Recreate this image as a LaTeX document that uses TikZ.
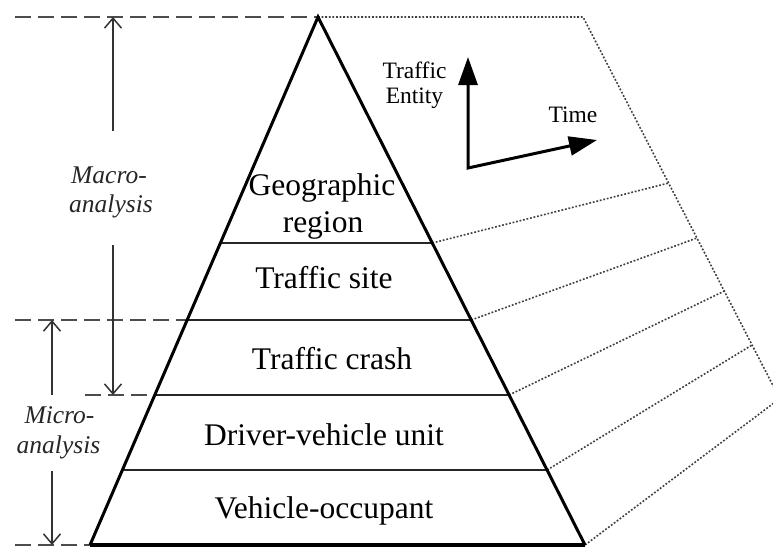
\documentclass[tikz,border=0pt]{standalone}
\usepackage{fontspec}
\setmainfont{Liberation Serif}
\usetikzlibrary{arrows.meta,calc}
\begin{document}
\begin{tikzpicture}[x=1pt,y=-1pt,
  level/.style={font=\fontsize{31.5}{37}\selectfont, anchor=base, inner sep=0pt},
  pyr/.style={line width=3pt, line join=miter},
  divider/.style={line width=2.8pt, draw=black!85},
  guide/.style={draw=black!70, line width=2.4pt, dash pattern=on 16pt off 7pt},
  dim/.style={draw=black!80, line width=1.5pt, -{Straight Barb[length=10pt,width=17pt]}},
  dots/.style={draw=black!75, line width=1.6pt, dash pattern=on 1.8pt off 1.8pt},
  axis/.style={line width=3pt, line join=miter, {Triangle[length=28pt,width=19pt]}-{Triangle[length=28pt,width=19pt]}},
  small/.style={font=\fontsize{23.5}{25}\selectfont, anchor=base, inner sep=0pt},
  side/.style={font=\itshape\fontsize{25.5}{29}\selectfont, text=black!85, anchor=base, inner sep=0pt}
]
\useasboundingbox (0,0) rectangle (773,550);
\clip (0,0) rectangle (773,550);
% pyramid
\coordinate (A) at (318,17);
\coordinate (BL) at (90,545);
\coordinate (BR) at (585,545);
\coordinate (L1) at (220.4,243); \coordinate (R1) at (432.3,243);
\coordinate (L2) at (187.2,320); \coordinate (R2) at (471.2,320);
\coordinate (L3) at (154.8,395); \coordinate (R3) at (509.1,395);
\coordinate (L4) at (122.4,470); \coordinate (R4) at (547.1,470);
% dotted frame
\coordinate (F0) at (583,17);
\coordinate (F1) at (668.7,183);
\coordinate (F2) at (697,238);
\coordinate (F3) at (724.4,291);
\coordinate (F4) at (752,345);
\coordinate (F5) at (779.7,398.6);
\draw[dots] (A) -- (F0) -- (F5) -- (BR);
\draw[dots] (R1) -- (F1);
\draw[dots] (R2) -- (F2);
\draw[dots] (R3) -- (F3);
\draw[dots] (R4) -- (F4);
% left dashed guides
\coordinate (G0) at (15,17);
\coordinate (G1) at (15,320);
\coordinate (G2) at (85,395);
\coordinate (G3) at (15,545);
\draw[guide] (G0) -- (A);
\draw[guide] (G1) -- (L2);
\draw[guide] (G2) -- (L3);
\draw[guide] (G3) -- (BL);
% pyramid drawing
\draw[divider] (L1) -- (R1);
\draw[divider] (L2) -- (R2);
\draw[divider] (L3) -- (R3);
\draw[divider] (L4) -- (R4);
\draw[pyr] (BL) -- (A) -- (BR);
\draw[line width=4.2pt] (BL) -- (BR);
% level labels
\node[level] (geo1) at (322,195) {Geographic};
\node[level] (geo2) at (323,232) {region};
\node[level] (site) at (324,288) {Traffic site};
\node[level] (crash) at (332,369) {Traffic crash};
\node[level] (dvu) at (324,445) {Driver-vehicle unit};
\node[level] (occ) at (324,518) {Vehicle-occupant};
% axes
\coordinate (O) at (468,168);
\coordinate (TE) at (468,57);
\coordinate (TT) at (597,140);
\draw[axis] (TE) -- (O) -- (TT);
\node[small] (te1) at (414.5,78) {Traffic};
\node[small] (te2) at (414.5,103) {Entity};
\node[small] (time) at (573,122) {Time};
% macro analysis
\node[side] (mac1) at (109,183) {Macro-};
\node[side] (mac2) at (111,212) {analysis};
\coordinate (MaTop) at (113,17);
\coordinate (MaA) at (113,131);
\coordinate (MaB) at (113,245);
\coordinate (MaBot) at (113,395);
\draw[dim] (MaA) -- (MaTop);
\draw[dim] (MaB) -- (MaBot);
% micro analysis
\node[side] (mic1) at (59.5,423) {Micro-};
\node[side] (mic2) at (58.5,453) {analysis};
\coordinate (MiTop) at (52,320);
\coordinate (MiA) at (52,395);
\coordinate (MiB) at (52,471);
\coordinate (MiBot) at (52,545);
\draw[dim] (MiA) -- (MiTop);
\draw[dim] (MiB) -- (MiBot);
\end{tikzpicture}
\end{document}
